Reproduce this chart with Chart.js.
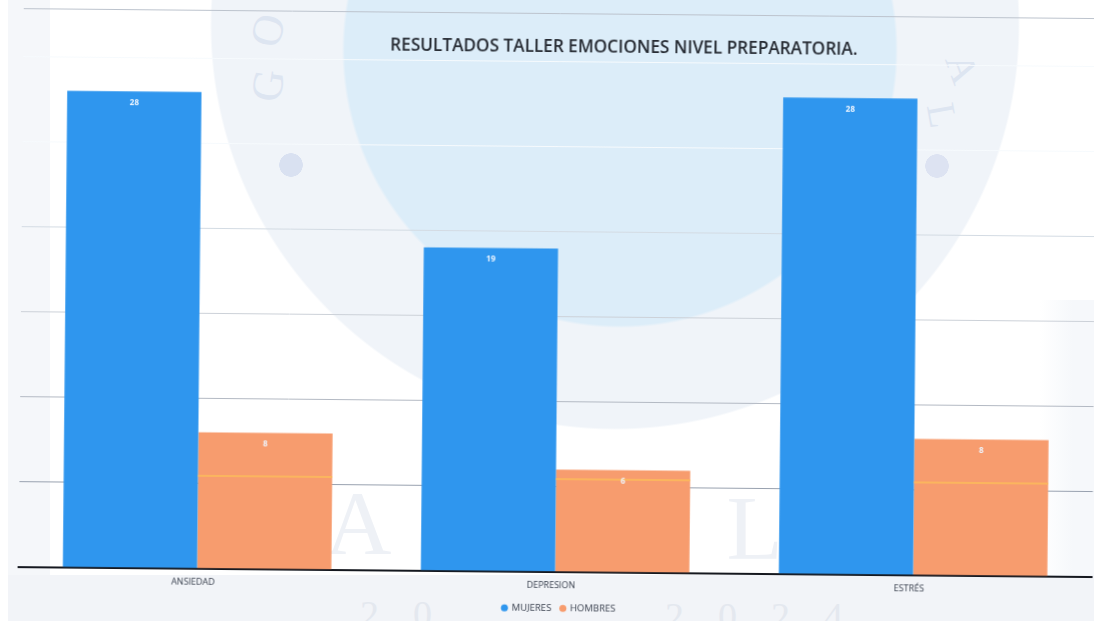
<!DOCTYPE html>
<html><head><meta charset="utf-8">
<style>
html,body{margin:0;padding:0;width:1094px;height:621px;overflow:hidden;background:#fff}
#bg{position:absolute;left:0;top:0;width:1094px;height:621px;overflow:hidden;
background:
 radial-gradient(circle 12px at 291px 165px,#d9e1f1 96%,transparent 100%),
 radial-gradient(circle 12px at 937px 166px,#dde3f2 96%,transparent 100%),
 radial-gradient(circle 278px at 620px 50px,#dcedf9 99%,transparent 100%),
 radial-gradient(circle 405px at 615px 25px,#f0f4f9 99.5%,transparent 100%),
 linear-gradient(#f2f4f8,#f2f4f8) 8px 575px/1086px 46px no-repeat,
 linear-gradient(#f5f7fa,#f5f7fa) 8px 0/42px 621px no-repeat,
 linear-gradient(to right,#fff,#f6f8fb 60%) 1040px 300px/54px 321px no-repeat,
 #fff}
#bg span{position:absolute;font-family:"Liberation Serif",serif;color:#e6ebf3;white-space:nowrap}
#wrap{position:absolute;left:0;top:0;width:1100px;height:622px;transform-origin:547px 310px;transform:rotate(0.53deg);filter:blur(0.35px)}
</style></head><body>
<div id="bg">
<span style="left:252px;top:60px;font-size:44px;color:#dde5f1;transform:rotate(-82deg)">G</span>
<span style="left:252px;top:5px;font-size:44px;color:#dde5f1;transform:rotate(-75deg)">O</span>
<span style="left:948px;top:45px;font-size:40px;color:#dde5f1;transform:rotate(70deg)">A</span>
<span style="left:930px;top:92px;font-size:40px;color:#dde5f1;transform:rotate(80deg)">L</span>
<span style="left:325px;top:470px;font-size:92px;letter-spacing:60px;color:#eef1f6">AL</span>
<span style="left:600px;top:475px;font-size:92px;letter-spacing:60px;color:#eef1f6">UL</span>
<span style="left:960px;top:480px;font-size:92px;color:#eef1f6">N</span>
<span style="left:360px;top:592px;font-size:38px;letter-spacing:34px;color:#e4e8ef">20</span>
<span style="left:665px;top:594px;font-size:38px;letter-spacing:34px;color:#e4e8ef">2024</span>
</div>
<div id="wrap"><canvas id="c" width="1100" height="622"></canvas></div>
<script src="https://cdn.jsdelivr.net/npm/chart.js@4"></script>
<script>
const titleText = "RESULTADOS TALLER EMOCIONES NIVEL PREPARATORIA.";
const categories = ["ANSIEDAD", "DEPRESION", "ESTRÉS"];
const mujeres = [28, 19, 28];
const hombres = [8, 6, 8];
const seriesNames = ["MUJERES", "HOMBRES"];
const axisTop = 32.8;
const barStreakValue = 5.45;

const font = '"Open Sans", sans-serif';

const barLabels = {
  id: "barLabels",
  afterLayout(chart) {
    // the title and the legend sit off their default spots in the source
    chart.titleBlock.left += 64;
    chart.titleBlock.right += 64;
    chart.legend.left += 4;
    chart.legend.right += 4;
    chart.legend.top += 4;
    chart.legend.bottom += 4;
  },
  afterDatasetsDraw(chart) {
    const ctx = chart.ctx, y = chart.scales.y;
    ctx.save();
    // pale streak showing through the orange bars
    chart.getDatasetMeta(1).data.forEach(b => {
      const yy = y.getPixelForValue(barStreakValue);
      ctx.strokeStyle = "#fbb55e"; ctx.lineWidth = 2;
      ctx.beginPath();
      ctx.moveTo(b.x - b.width / 2, yy); ctx.lineTo(b.x + b.width / 2, yy);
      ctx.stroke();
    });
    ctx.fillStyle = "#eef6ff";
    ctx.font = "bold 8px " + font;
    ctx.textAlign = "center"; ctx.textBaseline = "middle";
    chart.data.datasets.forEach((ds, i) => {
      chart.getDatasetMeta(i).data.forEach((b, j) => {
        ctx.fillText(ds.data[j], b.x, b.y + 11);
      });
    });
    ctx.restore();
  }
};

const gridColor = c => {
  const v = c.tick ? c.tick.value : 0;
  if (v === 0) return "#15181f";
  if (v === 5) return "#98a1af";
  if (v === 10) return "#b3b9c3";
  if (v === 15) return "#ccd1d8";
  if (v === 20) return "#d3dbe3";
  if (v === 25 || v === 30) return "#f6fafd";
  return "#bcc3cd";
};

new Chart(document.getElementById("c"), {
  type: "bar",
  data: {
    labels: categories,
    datasets: [
      { label: seriesNames[0], data: mujeres, backgroundColor: "#2f96ee", categoryPercentage: 0.75, barPercentage: 1 },
      { label: seriesNames[1], data: hombres, backgroundColor: "#f79c6e", categoryPercentage: 0.75, barPercentage: 1 }
    ]
  },
  options: {
    responsive: false,
    animation: false,
    layout: { padding: { left: 20.5, right: 5.5, top: 0, bottom: 3 } },
    plugins: {
      title: {
        display: true, text: titleText, color: "#262b33",
        font: { family: font, size: 17.2, weight: "600" },
        padding: { top: 37, bottom: -44 }
      },
      legend: {
        position: "bottom", fullSize: false,
        labels: { usePointStyle: true, pointStyle: "circle", boxWidth: 5, boxHeight: 5, padding: 9, color: "#3b4250", font: { family: font, size: 9.5 } }
      },
      tooltip: { enabled: false }
    },
    scales: {
      x: {
        grid: { display: false },
        border: { display: true, color: "#15181f", width: 2 },
        ticks: { color: "#3b4250", font: { family: font, size: 9 }, padding: 0, labelOffset: -4 }
      },
      y: {
        display: true, min: 0, max: axisTop,
        border: { display: false },
        grid: { color: gridColor, lineWidth: 1, drawTicks: false },
        ticks: { stepSize: 5, display: false }
      }
    }
  },
  plugins: [barLabels]
});
</script>
</body></html>
